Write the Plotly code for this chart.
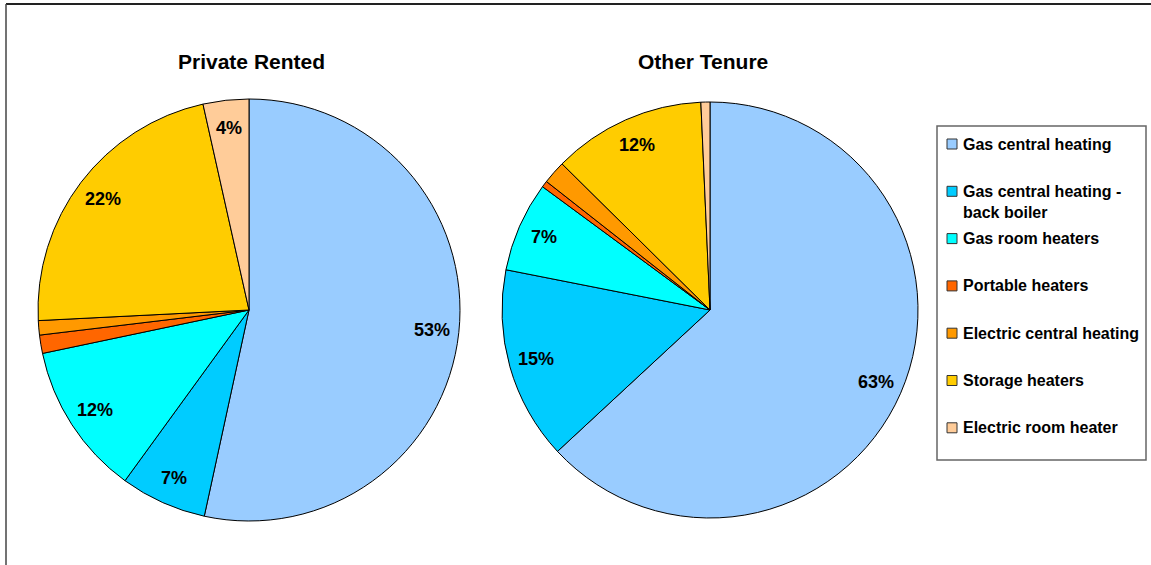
import math
import plotly.graph_objects as go

W, H = 1151, 565

heating_types = ['Gas central heating', 'Gas central heating - back boiler',
                 'Gas room heaters', 'Portable heaters',
                 'Electric central heating', 'Storage heaters',
                 'Electric room heater']
legend_text = ['Gas central heating', 'Gas central heating -<br>back boiler',
               'Gas room heaters', 'Portable heaters',
               'Electric central heating', 'Storage heaters',
               'Electric room heater']
colours = ['#99CCFF', '#00CCFF', '#00FFFF', '#FF6600', '#FF9900', '#FFCC00',
           '#FFCC99']

private_rented = [53.4, 6.6, 11.7, 1.4, 1.1, 22.3, 3.5]
private_labels = ['53%', '7%', '12%', '', '', '22%', '4%']
other_tenure = [63.1, 15.0, 7.0, 0.5, 1.8, 11.9, 0.7]
other_labels = ['63%', '15%', '7%', '', '', '12%', '']

FONT = 'Liberation Sans, Arial, sans-serif'


def px_x(x):
    return x / W


def px_y(y):
    return 1 - y / H


def pie_labels(values, labels, cx, cy, r, frac=0.87):
    # put each label at the middle angle of its slice (clockwise from 12 o'clock)
    total = sum(values)
    out = []
    cum = 0
    for v, lab in zip(values, labels):
        mid = (cum + v / 2) / total * 2 * math.pi
        cum += v
        if not lab:
            continue
        x = cx + frac * r * math.sin(mid)
        y = cy - frac * r * math.cos(mid)
        out.append(dict(x=px_x(x), y=px_y(y), xref='paper', yref='paper',
                        xanchor='center', yanchor='middle',
                        text=f'<b>{lab}</b>', showarrow=False,
                        font=dict(family=FONT, size=18, color='black')))
    return out


pies = [
    # values, labels, centre x, centre y, radius, title, title x
    (private_rented, private_labels, 249, 310, 211, 'Private Rented', 251),
    (other_tenure, other_labels, 710, 310, 208, 'Other Tenure', 703),
]

fig = go.Figure()
annotations = []

for values, labels, cx, cy, r, title, tx in pies:
    fig.add_trace(go.Pie(
        labels=heating_types,
        values=values,
        sort=False,
        direction='clockwise',
        rotation=0,
        textinfo='none',
        marker=dict(colors=colours, line=dict(color='black', width=1)),
        domain=dict(x=[px_x(cx - r), px_x(cx + r)],
                    y=[px_y(cy + r), px_y(cy - r)]),
        showlegend=False,
    ))
    annotations += pie_labels(values, labels, cx, cy, r)
    annotations.append(dict(x=px_x(tx), y=px_y(61), xref='paper', yref='paper',
                            xanchor='center', yanchor='middle',
                            text=f'<b>{title}</b>', showarrow=False,
                            font=dict(family=FONT, size=21, color='black')))

# legend drawn by hand so the item spacing matches
shapes = [
    dict(type='rect', xref='paper', yref='paper',
         x0=px_x(937), x1=px_x(1146), y0=px_y(460), y1=px_y(126),
         line=dict(color='#666666', width=1.5), fillcolor='white'),
    dict(type='line', xref='paper', yref='paper',
         x0=px_x(6), x1=1, y0=px_y(4), y1=px_y(4),
         line=dict(color='#222222', width=2)),
    dict(type='line', xref='paper', yref='paper',
         x0=px_x(6), x1=px_x(6), y0=px_y(4), y1=0,
         line=dict(color='#444444', width=1.5)),
]
for i, (txt, col) in enumerate(zip(legend_text, colours)):
    yc = 144 + i * 47.3
    shapes.append(dict(type='rect', xref='paper', yref='paper',
                       x0=px_x(947), x1=px_x(957),
                       y0=px_y(yc + 5), y1=px_y(yc - 5),
                       line=dict(color='#333333', width=1), fillcolor=col))
    annotations.append(dict(x=px_x(961), y=px_y(yc - 10.5), xref='paper',
                            yref='paper', xanchor='left', yanchor='top',
                            align='left', text=f'<b>{txt}</b>',
                            showarrow=False,
                            font=dict(family=FONT, size=16, color='black')))

fig.update_layout(
    width=W,
    height=H,
    margin=dict(l=0, r=0, t=0, b=0),
    paper_bgcolor='white',
    plot_bgcolor='white',
    annotations=annotations,
    shapes=shapes,
)

# the page body has a default 8px margin; remove it so the figure sits at 0,0
fig.write_html('out.html', config={'displayModeBar': False},
               post_script="document.body.style.margin='0';")
